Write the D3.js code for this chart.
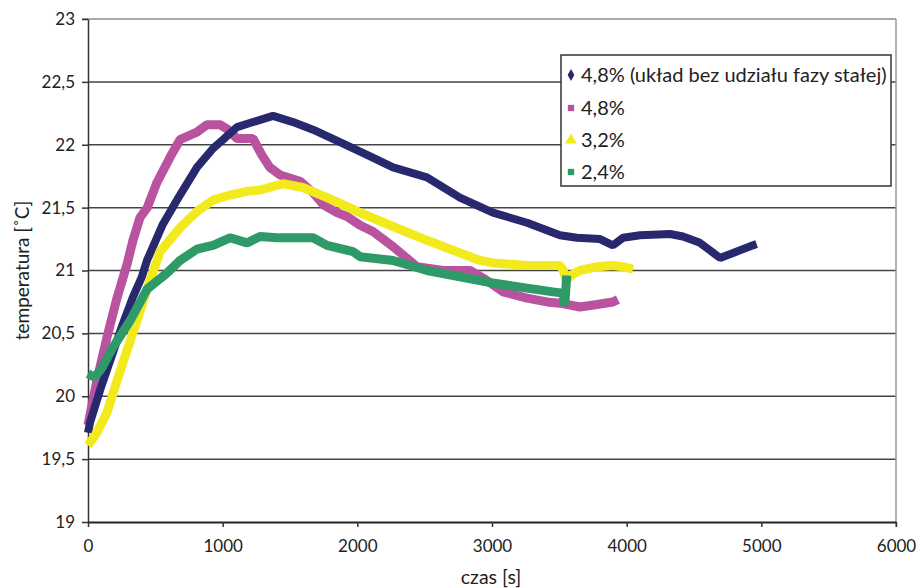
<!DOCTYPE html>
<html>
<head>
<meta charset="utf-8">
<script src="https://cdn.jsdelivr.net/npm/d3@7"></script>
<style>
  body { margin: 0; background: #fff; }
  svg text { font-family: Lato, "Open Sans", sans-serif; fill: #222; }
</style>
</head>
<body>
<div id="chart"></div>
<script>
// tick values
const xTicks = [0, 1000, 2000, 3000, 4000, 5000, 6000];
const yTicks = [19, 19.5, 20, 20.5, 21, 21.5, 22, 22.5, 23];

// series names
const seriesNames = ["4,8% (układ bez udziału fazy stałej)", "4,8%", "3,2%", "2,4%"];

// 4,8% without solid phase
const navyTime = [0, 15, 90, 186, 260, 334, 400, 438, 557, 683, 809, 928, 1002, 1106, 1255, 1374, 1522, 1671, 1871, 2072, 2265, 2517, 2762, 3007, 3260, 3505, 3631, 3802, 3898, 3973, 4099, 4322, 4418, 4544, 4619, 4693, 4790, 4938, 4965];
const navyTemp = [19.71, 19.79, 20.05, 20.35, 20.58, 20.79, 20.95, 21.08, 21.37, 21.6, 21.82, 21.97, 22.04, 22.14, 22.19, 22.23, 22.18, 22.12, 22.02, 21.92, 21.82, 21.74, 21.58, 21.46, 21.38, 21.28, 21.26, 21.25, 21.2, 21.26, 21.28, 21.29, 21.27, 21.22, 21.16, 21.1, 21.14, 21.2, 21.21];

// 4,8%
const pinkTime = [0, 67, 141, 215, 290, 334, 386, 440, 512, 609, 683, 809, 884, 980, 1040, 1106, 1225, 1290, 1350, 1426, 1574, 1671, 1750, 1849, 1923, 2020, 2116, 2265, 2443, 2636, 2837, 2950, 3082, 3260, 3408, 3505, 3653, 3780, 3898, 3935];
const pinkTemp = [19.77, 20.13, 20.47, 20.78, 21.05, 21.24, 21.42, 21.5, 21.7, 21.9, 22.04, 22.1, 22.16, 22.16, 22.12, 22.05, 22.05, 21.92, 21.82, 21.76, 21.71, 21.62, 21.52, 21.46, 21.43, 21.36, 21.31, 21.19, 21.03, 21.0, 21.0, 20.93, 20.83, 20.78, 20.75, 20.74, 20.71, 20.73, 20.75, 20.77];

// 3,2%
const yellowTime = [0, 60, 141, 200, 260, 364, 438, 535, 683, 809, 928, 1054, 1181, 1277, 1448, 1596, 1775, 1900, 2020, 2265, 2517, 2762, 2911, 3007, 3260, 3505, 3530, 3550, 3600, 3653, 3780, 3898, 3973, 4047];
const yellowTemp = [19.61, 19.7, 19.87, 20.07, 20.27, 20.6, 20.85, 21.15, 21.34, 21.47, 21.56, 21.6, 21.63, 21.64, 21.69, 21.66, 21.58, 21.52, 21.46, 21.35, 21.24, 21.14, 21.08, 21.06, 21.04, 21.04, 21.0, 20.92, 20.97, 21.0, 21.03, 21.04, 21.03, 21.01];

// 2,4%
const greenTime = [0, 50, 100, 186, 312, 438, 587, 683, 809, 928, 1054, 1181, 1277, 1403, 1671, 1775, 1968, 2020, 2265, 2517, 2762, 3007, 3260, 3453, 3527, 3540, 3555];
const greenTemp = [20.18, 20.15, 20.22, 20.39, 20.6, 20.85, 20.98, 21.08, 21.17, 21.2, 21.26, 21.22, 21.27, 21.26, 21.26, 21.2, 21.15, 21.11, 21.08, 21.0, 20.95, 20.9, 20.86, 20.83, 20.82, 20.72, 20.96];

const seriesColors = ["#28286f", "#b9529f", "#f2ea1c", "#2e9a68"];
const seriesSymbols = [d3.symbolDiamond, d3.symbolSquare, d3.symbolTriangle, d3.symbolSquare];

const width = 919, height = 588;
const margin = { top: 19, right: 23, bottom: 66, left: 88 };

const svg = d3.select("#chart").append("svg")
  .attr("width", width)
  .attr("height", height);

const x = d3.scaleLinear().domain([0, 6000]).range([margin.left, width - margin.right]);
const y = d3.scaleLinear().domain([19, 23]).range([height - margin.bottom, margin.top]);

// gridlines
svg.append("g")
  .selectAll("line")
  .data(yTicks.filter(d => d > 19 && d < 23))
  .join("line")
    .attr("x1", x(0)).attr("x2", x(6000))
    .attr("y1", d => y(d)).attr("y2", d => y(d))
    .attr("stroke", "#444")
    .attr("stroke-width", 1.5);

// plot border top / right
svg.append("line")
  .attr("x1", x(0) - 6).attr("x2", x(6000))
  .attr("y1", y(23)).attr("y2", y(23))
  .attr("stroke", "#8c8c8c").attr("stroke-width", 1.5);
svg.append("line")
  .attr("x1", x(6000)).attr("x2", x(6000))
  .attr("y1", y(23)).attr("y2", y(19) + 5)
  .attr("stroke", "#9a9a9a").attr("stroke-width", 1.5);

const fmt = d => String(d).replace(".", ",");

const yAxis = svg.append("g")
  .attr("transform", `translate(${margin.left},0)`)
  .call(d3.axisLeft(y).tickValues(yTicks).tickFormat(fmt).tickSize(6).tickSizeOuter(0).tickPadding(7));
yAxis.select(".domain").attr("stroke", "#333").attr("stroke-width", 1.5);
yAxis.selectAll(".tick line").attr("stroke", "#333").attr("stroke-width", 1.5);
yAxis.selectAll("text").style("font-size", "17px").attr("fill", "#222");

const xAxis = svg.append("g")
  .attr("transform", `translate(0,${height - margin.bottom})`)
  .call(d3.axisBottom(x).tickValues(xTicks).tickFormat(d3.format("d")).tickSize(5).tickSizeOuter(0).tickPadding(13));
xAxis.select(".domain").attr("stroke", "#222").attr("stroke-width", 2);
xAxis.selectAll(".tick line").attr("stroke", "#333").attr("stroke-width", 1.5);
xAxis.selectAll("text").style("font-size", "17px").attr("fill", "#222");

// axis titles
svg.append("text")
  .attr("x", (x(0) + x(6000)) / 2 - 1)
  .attr("y", 584)
  .attr("text-anchor", "middle")
  .style("font-size", "19.5px")
  .text("czas [s]");

svg.append("text")
  .attr("transform", `translate(29,${y(21)}) rotate(-90)`)
  .attr("text-anchor", "middle")
  .style("font-size", "19px")
  .text("temperatura [˚C]");

// series
const series = [
  { t: navyTime, v: navyTemp, w: 8 },
  { t: pinkTime, v: pinkTemp, w: 9 },
  { t: yellowTime, v: yellowTemp, w: 9 },
  { t: greenTime, v: greenTemp, w: 9 }
];

const line = d3.line().x(d => x(d[0])).y(d => y(d[1]));

// draw order matches reference stacking: pink, navy, yellow, green on top
[1, 0, 2, 3].forEach(i => {
  const s = series[i];
  const pts = s.t.map((t, j) => [t, s.v[j]]);
  svg.append("path")
    .datum(pts)
    .attr("d", line)
    .attr("fill", "none")
    .attr("stroke", seriesColors[i])
    .attr("stroke-width", s.w)
    .attr("stroke-linejoin", "bevel");
});

// legend
const lg = svg.append("g").attr("transform", "translate(561,55)");
lg.append("rect")
  .attr("width", 330).attr("height", 131)
  .attr("fill", "#fff")
  .attr("stroke", "#333").attr("stroke-width", 1.5);

const rowY = [20, 53, 85, 117];
seriesNames.forEach((name, i) => {
  const row = lg.append("g").attr("transform", `translate(0,${rowY[i]})`);
  row.append("path")
    .attr("transform", "translate(10,0)")
    .attr("d", d3.symbol().type(seriesSymbols[i]).size(i === 2 ? 60 : 40)())
    .attr("fill", seriesColors[i]);
  row.append("text")
    .attr("x", 20)
    .attr("dy", "0.35em")
    .style("font-size", "20px")
    .text(name);
});
</script>
</body>
</html>
